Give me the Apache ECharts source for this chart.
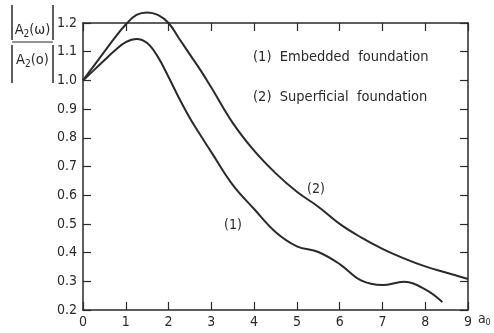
<!DOCTYPE html>
<html>
<head>
<meta charset="utf-8">
<script src="https://cdn.jsdelivr.net/npm/echarts@6/dist/echarts.min.js"></script>
<style>
  html, body { margin: 0; padding: 0; background: #fff; }
  #chart { width: 494px; height: 333px; }
</style>
</head>
<body>
<div id="chart"></div>
<script>
// Dimensionless frequency a0 and amplitude ratio |A2(w)| / |A2(0)|
const embeddedX = [0, 0.25, 0.5, 0.75, 1.0, 1.25, 1.5, 1.75, 2.0, 2.25, 2.5, 2.75, 3.0, 3.5, 4.0, 4.5, 5.0, 5.5, 6.0, 6.5, 7.0, 7.5, 8.0, 8.4];
const embeddedY = [1.0, 1.035, 1.07, 1.105, 1.133, 1.144, 1.13, 1.082, 1.012, 0.937, 0.868, 0.808, 0.75, 0.636, 0.552, 0.472, 0.422, 0.402, 0.36, 0.303, 0.287, 0.298, 0.272, 0.228];

const superficialX = [0, 0.25, 0.5, 0.75, 1.0, 1.25, 1.5, 1.75, 2.0, 2.25, 2.5, 2.75, 3.0, 3.5, 4.0, 4.5, 5.0, 5.5, 6.0, 6.5, 7.0, 7.5, 8.0, 8.5, 9.0];
const superficialY = [1.0, 1.05, 1.10, 1.15, 1.195, 1.228, 1.237, 1.228, 1.2, 1.145, 1.09, 1.035, 0.975, 0.852, 0.755, 0.677, 0.612, 0.56, 0.5, 0.453, 0.413, 0.38, 0.352, 0.33, 0.308];

const xTicks = [0, 1, 2, 3, 4, 5, 6, 7, 8, 9];
const yTicks = [0.2, 0.3, 0.4, 0.5, 0.6, 0.7, 0.8, 0.9, 1.0, 1.1, 1.2];

const ink = '#2a2a2a';
const font = '"DejaVu Sans Condensed", "Liberation Sans Narrow", "DejaVu Sans", sans-serif';

const toPairs = (xs, ys) => xs.map((x, i) => [x, ys[i]]);

const chart = echarts.init(document.getElementById('chart'));

const baseX = {
  type: 'value', min: xTicks[0], max: xTicks[xTicks.length - 1], interval: 1,
  splitLine: { show: false },
  axisLine: { show: true, onZero: false, lineStyle: { color: ink, width: 1.5 } },
  axisTick: { show: true, inside: true, length: 8, lineStyle: { color: ink, width: 1.2 } }
};
const baseY = {
  type: 'value', min: yTicks[0], max: yTicks[yTicks.length - 1], interval: 0.1,
  splitLine: { show: false },
  axisLine: { show: true, onZero: false, lineStyle: { color: ink, width: 1.5 } },
  axisTick: { show: true, inside: true, length: 8, lineStyle: { color: ink, width: 1.2 } }
};

chart.setOption({
  animation: false,
  backgroundColor: '#fff',
  grid: { left: 83, right: 26, top: 23, bottom: 23 },
  xAxis: [
    Object.assign({}, baseX, {
      position: 'bottom',
      axisLabel: { color: ink, fontFamily: font, fontSize: 14, margin: 5,
        formatter: v => xTicks.includes(v) ? String(v) : '' },
      name: '{a|a}{s|0}', nameLocation: 'end', nameGap: 9,
      nameTextStyle: { verticalAlign: 'top', padding: [2, 0, 0, 0],
        rich: { a: { fontFamily: font, fontSize: 14, color: ink },
                s: { fontFamily: font, fontSize: 9, color: ink, verticalAlign: 'bottom', padding: [6, 0, 0, 0] } } }
    }),
    Object.assign({}, baseX, { position: 'top', axisLabel: { show: false } })
  ],
  yAxis: [
    Object.assign({}, baseY, {
      position: 'left',
      axisLabel: { color: ink, fontFamily: font, fontSize: 14, margin: 6,
        formatter: v => v.toFixed(1) }
    }),
    Object.assign({}, baseY, { position: 'right', axisLabel: { show: false } })
  ],
  graphic: [
    // y-axis title: |A2(w)| over |A2(o)|
    { type: 'line', shape: { x1: 12, y1: 5, x2: 12, y2: 40 }, style: { stroke: ink, lineWidth: 1.5 } },
    { type: 'line', shape: { x1: 53, y1: 5, x2: 53, y2: 40 }, style: { stroke: ink, lineWidth: 1.5 } },
    { type: 'line', shape: { x1: 12, y1: 42, x2: 53, y2: 42 }, style: { stroke: ink, lineWidth: 1.2 } },
    { type: 'line', shape: { x1: 12, y1: 45, x2: 12, y2: 83 }, style: { stroke: ink, lineWidth: 1.5 } },
    { type: 'line', shape: { x1: 53, y1: 45, x2: 53, y2: 83 }, style: { stroke: ink, lineWidth: 1.5 } },
    { type: 'text', x: 32.5, y: 30, style: {
      text: '{a|A}{s|2}{a|(ω)}', align: 'center', verticalAlign: 'middle',
      rich: { a: { fontFamily: font, fontSize: 14.5, fill: ink },
              s: { fontFamily: font, fontSize: 10, fill: ink, padding: [8, 0, 0, 0] } } } },
    { type: 'text', x: 32.5, y: 60, style: {
      text: '{a|A}{s|2}{a|(o)}', align: 'center', verticalAlign: 'middle',
      rich: { a: { fontFamily: font, fontSize: 14.5, fill: ink },
              s: { fontFamily: font, fontSize: 10, fill: ink, padding: [8, 0, 0, 0] } } } },
    // key
    { type: 'text', x: 253, y: 57, style: { text: '(1)  Embedded  foundation', fontFamily: font, fontSize: 14.5, fill: ink, verticalAlign: 'middle' } },
    { type: 'text', x: 253, y: 97, style: { text: '(2)  Superficial  foundation', fontFamily: font, fontSize: 14.5, fill: ink, verticalAlign: 'middle' } },
    // curve tags
    { type: 'text', x: 233, y: 225, style: { text: '(1)', fontFamily: font, fontSize: 14, fill: ink, align: 'center', verticalAlign: 'middle' } },
    { type: 'text', x: 316, y: 189, style: { text: '(2)', fontFamily: font, fontSize: 14, fill: ink, align: 'center', verticalAlign: 'middle' } }
  ],
  series: [
    { name: 'Embedded foundation', type: 'line', data: toPairs(embeddedX, embeddedY),
      smooth: 0.4, showSymbol: false, clip: false, lineStyle: { color: ink, width: 2 } },
    { name: 'Superficial foundation', type: 'line', data: toPairs(superficialX, superficialY),
      smooth: 0.4, showSymbol: false, clip: false, lineStyle: { color: ink, width: 2 } }
  ]
});
</script>
</body>
</html>
